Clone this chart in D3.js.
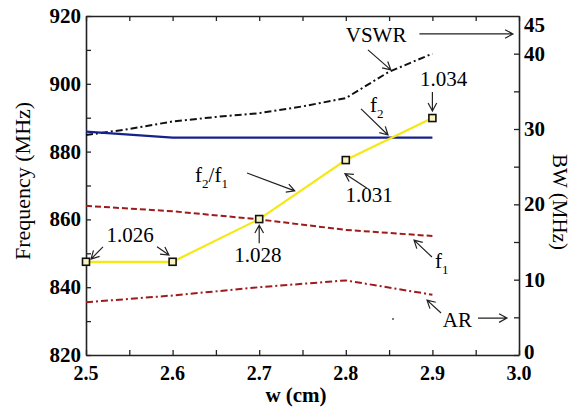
<!DOCTYPE html>
<html><head><meta charset="utf-8">
<script src="https://cdn.jsdelivr.net/npm/d3@7/dist/d3.min.js"></script>
</head>
<body style="margin:0;background:#fff">
<svg id="c" width="574" height="408" style="display:block"></svg>
<script>
// ---- data ----
const wValues = [2.5, 2.6, 2.7, 2.8, 2.9];
const f2 = [885.9, 884.1, 884.1, 884.1, 884.1];          // MHz, left axis
const f1 = [864.0, 862.4, 860.0, 856.9, 855.1];          // MHz, left axis
const ratioPlot = [847.5, 847.5, 860.1, 877.5, 889.9];   // f2/f1 curve drawn on left axis
const ratioLabels = ["1.026", "1.026", "1.028", "1.031", "1.034"];
const vswrW = [2.5, 2.55, 2.6, 2.65, 2.7, 2.75, 2.8, 2.85, 2.9];
const vswrBW = [29.2, 30.0, 31.0, 31.6, 32.1, 33.0, 34.1, 37.6, 40.0]; // MHz, right axis
const arBW = [7.0, 7.9, 9.0, 9.9, 8.0];                  // MHz, right axis
const xTicks = [2.5, 2.6, 2.7, 2.8, 2.9, 3.0];
const xMinor = [2.55, 2.65, 2.75, 2.85, 2.95];
const yLeftTicks = [820, 840, 860, 880, 900, 920];
const yLeftMinor = [830, 850, 870, 890, 910];
const yRightTicks = [0, 10, 20, 30, 40];
const yRightMinor = [5, 15, 25, 35];

(function () {
const FONT = '"Liberation Serif", serif';
const W = 574, H = 408;
const m = {l: 86, r: 55, t: 16, b: 53};
const svg = d3.select("#c");
const x = d3.scaleLinear().domain([2.5, 3.0]).range([m.l, W - m.r]);
const yL = d3.scaleLinear().domain([820, 920]).range([H - m.b, m.t]);
const yR = d3.scaleLinear().domain([0, 45]).range([H - m.b, m.t]);
const x0 = m.l, x1 = W - m.r, y0 = H - m.b, y1 = m.t;

const tickLen = 5;
const axisCol = "#222";
const g = svg.append("g");

const axB = g.append("g").attr("transform", `translate(0,${y0})`)
  .call(d3.axisBottom(x).tickValues([...xTicks, ...xMinor]).tickSizeInner(-tickLen).tickSizeOuter(0).tickFormat(""));
const axT = g.append("g").attr("transform", `translate(0,${y1})`)
  .call(d3.axisTop(x).tickValues([...xTicks, ...xMinor]).tickSizeInner(-tickLen).tickSizeOuter(0).tickFormat(""));
const axL = g.append("g").attr("transform", `translate(${x0},0)`)
  .call(d3.axisLeft(yL).tickValues([...yLeftTicks, ...yLeftMinor]).tickSizeInner(-tickLen).tickSizeOuter(0).tickFormat(""));
const axR = g.append("g").attr("transform", `translate(${x1},0)`)
  .call(d3.axisRight(yR).tickValues([...yRightTicks, ...yRightMinor]).tickSizeInner(-tickLen).tickSizeOuter(0).tickFormat(""));
[axB, axT, axL, axR].forEach(a => {
  a.selectAll("path.domain").attr("stroke", axisCol).attr("stroke-width", 1.6);
  a.selectAll(".tick line").attr("stroke", axisCol).attr("stroke-width", 1.3);
});

const tickFont = {size: 20, weight: "bold"};
g.selectAll("text.xt").data(xTicks).join("text").attr("class", "xt")
  .attr("font-family", FONT)
  .attr("x", d => x(d)).attr("y", y0 + 25).attr("text-anchor", "middle")
  .attr("font-size", tickFont.size).attr("font-weight", tickFont.weight)
  .text(d => d.toFixed(1));
g.selectAll("text.ylt").data(yLeftTicks).join("text").attr("class", "ylt")
  .attr("font-family", FONT)
  .attr("x", x0 - 5).attr("y", d => yL(d) + 7).attr("text-anchor", "end")
  .attr("font-size", tickFont.size + 1).attr("font-weight", tickFont.weight)
  .text(d => d);
g.selectAll("text.yrt").data(yRightTicks).join("text").attr("class", "yrt")
  .attr("font-family", FONT)
  .attr("x", x1 + 5).attr("y", d => yR(d) + (d === 0 ? 4 : 7)).attr("text-anchor", "start")
  .attr("font-size", tickFont.size + 1).attr("font-weight", tickFont.weight)
  .text(d => d);
g.append("text").attr("font-family", FONT).attr("x", x1 + 5).attr("y", yR(45) + 16)
  .attr("font-size", tickFont.size + 1).attr("font-weight", tickFont.weight).text("45");

g.append("text").attr("font-family", FONT).attr("transform", `translate(30,181) rotate(-90)`)
  .attr("text-anchor", "middle").attr("font-size", 22).text("Frequency (MHz)");
g.append("text").attr("font-family", FONT).attr("transform", `translate(553,202) rotate(90)`)
  .attr("text-anchor", "middle").attr("font-size", 21).text("BW (MHz)");
g.append("text").attr("font-family", FONT).attr("x", 296).attr("y", 402)
  .attr("text-anchor", "middle").attr("font-size", 21).attr("font-weight", "bold").text("w (cm)");

const lineL = d3.line().x(d => x(d[0])).y(d => yL(d[1]));
const lineR = d3.line().x(d => x(d[0])).y(d => yR(d[1]));
const plot = g.append("g");
plot.append("path").datum(d3.zip(wValues, f1)).attr("d", lineL)
  .attr("fill", "none").attr("stroke", "#9e1b1b").attr("stroke-width", 2).attr("stroke-dasharray", "6,3");
plot.append("path").datum(d3.zip(wValues, arBW)).attr("d", lineR)
  .attr("fill", "none").attr("stroke", "#9e1b1b").attr("stroke-width", 2).attr("stroke-dasharray", "7,3,2,3");
plot.append("path").datum(d3.zip(vswrW, vswrBW)).attr("d", lineR)
  .attr("fill", "none").attr("stroke", "#111").attr("stroke-width", 2).attr("stroke-dasharray", "7,3,2,3");
plot.append("path").datum(d3.zip(wValues, f2)).attr("d", lineL)
  .attr("fill", "none").attr("stroke", "#16228c").attr("stroke-width", 2.2);
plot.append("path").datum(d3.zip(wValues, ratioPlot)).attr("d", lineL)
  .attr("fill", "none").attr("stroke", "#f4e815").attr("stroke-width", 2.2);
plot.selectAll("rect.mk").data(d3.zip(wValues, ratioPlot)).join("rect").attr("class", "mk")
  .attr("x", d => x(d[0]) - 3.5).attr("y", d => yL(d[1]) - 3.5)
  .attr("width", 7).attr("height", 7)
  .attr("fill", "#fbf6c0").attr("stroke", "#111").attr("stroke-width", 1.6);

const ann = g.append("g");
function arrow(xa, ya, xb, yb) {
  const ax = x(xa), ay = yL(ya), bx = x(xb), by = yL(yb);
  const ang = Math.atan2(by - ay, bx - ax), hl = 9, hw = 0.5;
  const p1 = [bx - hl * Math.cos(ang - hw), by - hl * Math.sin(ang - hw)];
  const p2 = [bx - hl * Math.cos(ang + hw), by - hl * Math.sin(ang + hw)];
  ann.append("path")
    .attr("d", `M${ax},${ay}L${bx},${by}M${p1[0]},${p1[1]}L${bx},${by}L${p2[0]},${p2[1]}`)
    .attr("fill", "none").attr("stroke", "#222").attr("stroke-width", 1.2);
}
function label(xa, ya, txt, anchor, sub, rest, sub2) {
  const t = ann.append("text").attr("font-family", FONT).attr("x", x(xa)).attr("y", yL(ya))
    .attr("text-anchor", anchor || "start").attr("font-size", 21);
  t.append("tspan").text(txt);
  if (sub) t.append("tspan").attr("font-size", 13).attr("dy", 6).text(sub);
  if (rest) t.append("tspan").attr("dy", -6).text(rest);
  if (sub2) t.append("tspan").attr("font-size", 13).attr("dy", 6).text(sub2);
  return t;
}
label(2.835, 912.3, "VSWR", "middle");
arrow(2.885, 914.7, 2.993, 914.7);
arrow(2.8256, 910.0, 2.852, 904.1);
label(2.913, 899.4, ratioLabels[4], "middle");
arrow(2.9, 897.6, 2.9, 892.0);
label(2.828, 891.7, "f", "start", "2");
arrow(2.8176, 892.6, 2.8487, 884.9);
label(2.827, 865.1, ratioLabels[3], "middle");
arrow(2.8245, 869.2, 2.799, 873.5);
label(2.626, 871.0, "f", "start", "2", "/f", "1");
arrow(2.686, 873.7, 2.741, 868.4);
label(2.551, 853.3, ratioLabels[0], "middle");
arrow(2.5196, 851.9, 2.5058, 848.3);
arrow(2.582, 851.9, 2.5958, 849.5);
label(2.6986, 847.4, ratioLabels[2], "middle");
arrow(2.7, 853.0, 2.7, 858.3);
label(2.903, 845.7, "f", "start", "1");
arrow(2.8995, 848.9, 2.8788, 853.9);
label(2.912, 828.3, "AR", "start");
arrow(2.91, 832.4, 2.8938, 836.2);
arrow(2.9527, 830.9, 2.9861, 830.9);
ann.append("circle").attr("cx", x(2.8545)).attr("cy", yL(830.6)).attr("r", 1).attr("fill", "#555");
})();
</script>
</body></html>
